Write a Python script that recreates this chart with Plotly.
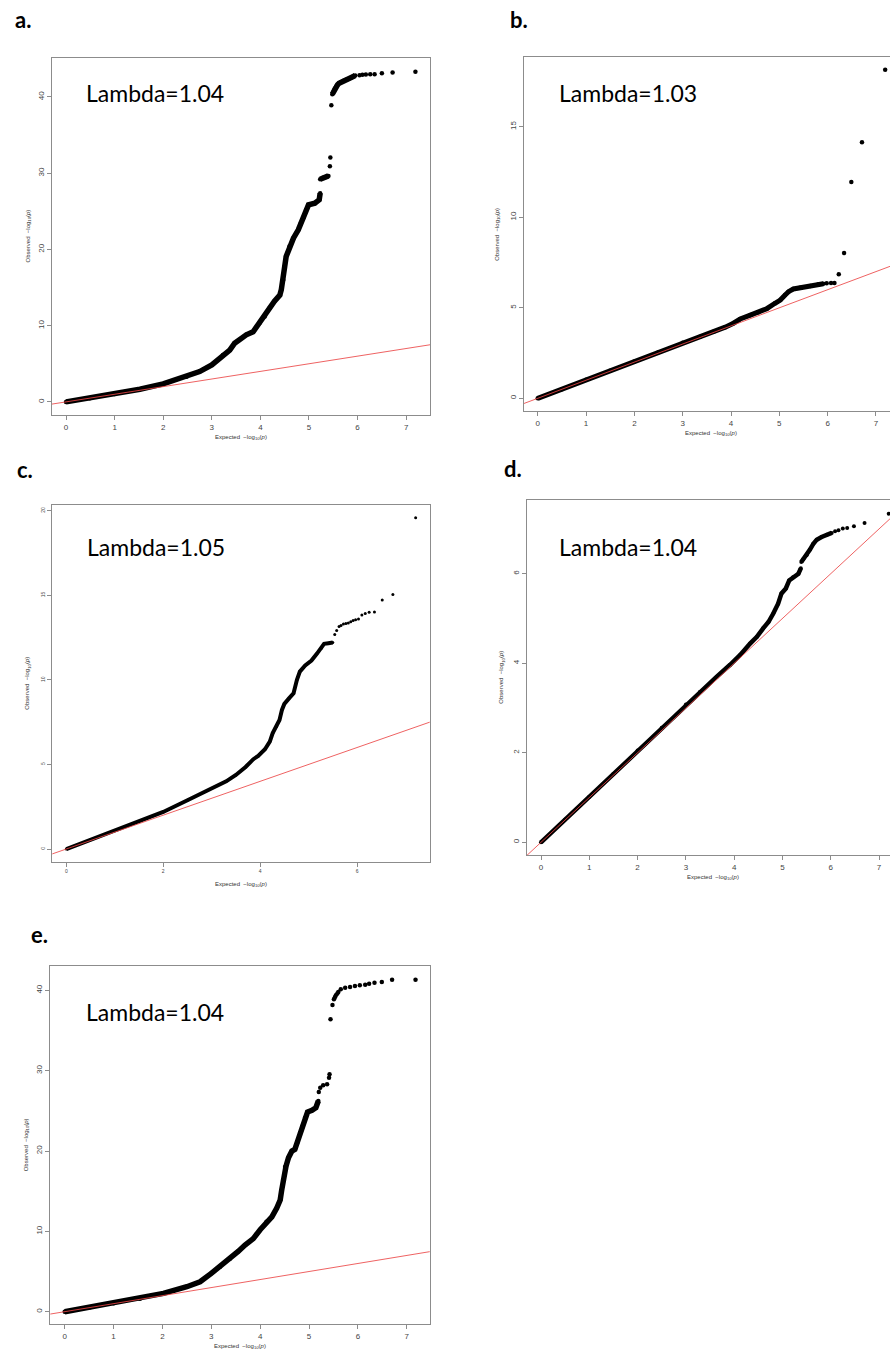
import plotly.graph_objects as go

# ---------------- data ----------------
reference_line = [-1, 8]          # y = x guide line

# panel a
a_line_x = [0, 0.49, 1.0, 1.52, 2.0, 2.48, 2.75, 3.0, 3.23, 3.37, 3.47, 3.56, 3.71, 3.85, 3.98,
            4.09, 4.19, 4.29, 4.40, 4.43, 4.47, 4.50, 4.53, 4.60, 4.68, 4.78, 4.83, 4.88, 4.94,
            4.99, 5.12, 5.21, 5.23, None, 5.23, 5.29, 5.35, 5.40, None,
            5.48, 5.51, 5.53, 5.56, 5.59, 5.62, 5.66, 5.71, 5.76, 5.81, 5.85, 5.88, 5.92, 5.95]
a_line_y = [0, 0.48, 1.05, 1.66, 2.36, 3.3, 3.98, 4.85, 6.16, 6.8, 7.7, 8.1, 8.8, 9.2, 10.3,
            11.2, 12.3, 13.2, 14.0, 14.7, 16.0, 17.75, 19.06, 20.4, 21.47, 22.56, 23.4, 24.09, 25.18,
            25.84, 26.06, 26.5, 27.37, None, 29.2, 29.38, 29.5, 29.64, None,
            40.35, 40.8, 41.1, 41.35, 41.6, 41.8, 41.95, 42.1, 42.25, 42.36, 42.48, 42.58, 42.7, 42.8]
a_dots_x = [5.43, 5.44, 5.46, 6.04, 6.10, 6.17, 6.26, 6.35, 6.50, 6.72, 7.19]
a_dots_y = [30.9, 32.04, 38.9, 42.85, 42.9, 42.93, 42.98, 42.98, 43.1, 43.19, 43.3]

# panel b
b_line_x = [0, 0.5, 1.0, 1.5, 2.0, 2.5, 3.0, 3.36, 3.64, 3.88, 4.05, 4.19, 4.40, 4.57, 4.74,
            4.91, 5.02, 5.12, 5.19, 5.29, 5.43, 5.64, 5.81, 5.91]
b_line_y = [0, 0.5, 1.02, 1.53, 2.04, 2.55, 3.07, 3.4, 3.68, 3.93, 4.15, 4.38, 4.6, 4.75, 4.95,
            5.25, 5.43, 5.71, 5.89, 6.04, 6.11, 6.2, 6.3, 6.33]
b_dots_x = [5.98, 6.07, 6.14, 6.23, 6.34, 6.49, 6.71, 7.19]
b_dots_y = [6.35, 6.37, 6.37, 6.85, 8.03, 11.95, 14.14, 18.15]

# panel c
c_line_x = [0, 0.5, 1.0, 1.5, 2.0, 2.5, 3.0, 3.3, 3.5, 3.7, 3.86, 3.96, 4.10, 4.20, 4.26, 4.34,
            4.40, 4.45, 4.50, 4.60, 4.69, 4.76, 4.82, 4.93, 5.06, 5.17, 5.27, 5.32, 5.41, 5.50]
c_line_y = [0, 0.55, 1.1, 1.63, 2.19, 2.88, 3.58, 4.0, 4.38, 4.85, 5.31, 5.5, 5.9, 6.35, 6.85, 7.24,
            7.63, 8.22, 8.58, 8.92, 9.21, 10.0, 10.49, 10.85, 11.14, 11.54, 11.88, 12.13, 12.17, 12.21]
c_dots_x = [5.54, 5.58, 5.63, 5.67, 5.72, 5.77, 5.82, 5.87, 5.92, 5.97, 6.03, 6.10, 6.17, 6.25,
            6.36, 6.52, 6.74, 7.21]
c_dots_y = [12.68, 12.92, 13.15, 13.22, 13.31, 13.34, 13.37, 13.44, 13.51, 13.55, 13.6, 13.83, 13.92,
            14.0, 14.02, 14.72, 15.05, 19.59]

# panel d
d_line_x = [0, 0.5, 1.0, 1.5, 2.0, 2.5, 3.0, 3.29, 3.64, 3.91, 4.12, 4.33, 4.47, 4.60, 4.71, 4.81,
            4.91, 4.98, 5.07, 5.14, 5.22, 5.33, 5.38, None, 5.39, 5.43, 5.50, 5.57, 5.64, 5.71,
            5.81, 5.92, 6.02]
d_line_y = [0, 0.51, 1.02, 1.53, 2.05, 2.56, 3.08, 3.36, 3.70, 3.96, 4.18, 4.44, 4.59, 4.78, 4.92,
            5.11, 5.33, 5.56, 5.67, 5.85, 5.92, 6.0, 6.12, None, 6.26, 6.32, 6.41, 6.54, 6.67, 6.76,
            6.82, 6.87, 6.91]
d_dots_x = [6.09, 6.16, 6.25, 6.34, 6.48, 6.70, 7.20]
d_dots_y = [6.95, 6.97, 7.01, 7.02, 7.06, 7.13, 7.34]

# panel e
e_line_x = [0, 0.52, 1.0, 1.54, 2.02, 2.5, 2.77, 3.0, 3.18, 3.38, 3.55, 3.69, 3.86, 4.0, 4.13,
            4.24, 4.34, 4.41, 4.44, 4.47, 4.51, 4.53, 4.58, 4.65, 4.71, 4.76, 4.82, 4.87, 4.92,
            4.97, 5.06, 5.14, 5.19]
e_line_y = [0, 0.55, 1.06, 1.62, 2.28, 3.11, 3.73, 4.77, 5.6, 6.6, 7.5, 8.3, 9.1, 10.2, 11.2,
            11.8, 12.9, 13.9, 15.1, 16.4, 18.0, 18.13, 19.17, 20.0, 20.21, 21.03, 22.28, 23.11, 24.15,
            24.85, 25.07, 25.39, 26.22]
e_dots_x = [5.20, 5.23, 5.29, 5.37, 5.41, 5.42, 5.44, 5.48, 5.51, 5.53, 5.55, 5.58, 5.60, 5.65,
            5.74, 5.84, 5.94, 6.04, 6.15, 6.23, 6.34, 6.49, 6.70, 7.18]
e_dots_y = [27.34, 27.88, 28.18, 28.3, 29.12, 29.55, 36.39, 38.17, 38.88, 39.15, 39.38, 39.6, 39.79,
            40.12, 40.32, 40.41, 40.54, 40.62, 40.7, 40.82, 40.95, 41.03, 41.32, 41.32]

panel_letters = ["a.", "b.", "c.", "d.", "e."]
lambda_labels = ["Lambda=1.04", "Lambda=1.03", "Lambda=1.05", "Lambda=1.04", "Lambda=1.04"]

# ---------------- layout geometry (pixels) ----------------
W, H = 890, 1352
panels = [
    dict(lx=a_line_x, ly=a_line_y, dx=a_dots_x, dy=a_dots_y,
         box=(52, 430, 58, 415), xr=[-0.288, 7.49], yr=[-1.72, 45.1],
         xt=[0, 1, 2, 3, 4, 5, 6, 7], yt=[0, 10, 20, 30, 40], fs=8, lw=5.5, ms=4.5,
         mirror_y=True, letter=(13, 20), lam=(84, 93), xtitle_y=437, ytitle_x=28),
    dict(lx=b_line_x, ly=b_line_y, dx=b_dots_x, dy=b_dots_y,
         box=(523.7, 890, 56.7, 411), xr=[-0.29, 7.29], yr=[-0.70, 18.87],
         xt=[0, 1, 2, 3, 4, 5, 6, 7], yt=[0, 5, 10, 15], fs=8, lw=5, ms=4.5,
         mirror_y=False, letter=(508, 19), lam=(557, 93), xtitle_y=433, ytitle_x=498),
    dict(lx=c_line_x, ly=c_line_y, dx=c_dots_x, dy=c_dots_y,
         box=(52.3, 429.7, 505, 862.3), xr=[-0.289, 7.50], yr=[-0.786, 20.34],
         xt=[0, 2, 4, 6], yt=[0, 5, 10, 15, 20], fs=5, lw=4, ms=3,
         mirror_y=True, letter=(15, 470), lam=(85, 547), xtitle_y=884, ytitle_x=28),
    dict(lx=d_line_x, ly=d_line_y, dx=d_dots_x, dy=d_dots_y,
         box=(527, 890, 500, 855.3), xr=[-0.29, 7.227], yr=[-0.29, 7.646],
         xt=[0, 1, 2, 3, 4, 5, 6, 7], yt=[0, 2, 4, 6], fs=8, lw=4.5, ms=4,
         mirror_y=False, letter=(502, 468), lam=(557, 547), xtitle_y=877, ytitle_x=502),
    dict(lx=e_line_x, ly=e_line_y, dx=e_dots_x, dy=e_dots_y,
         box=(50.3, 429.7, 966.3, 1324.3), xr=[-0.295, 7.47], yr=[-1.57, 42.99],
         xt=[0, 1, 2, 3, 4, 5, 6, 7], yt=[0, 10, 20, 30, 40], fs=8, lw=5.5, ms=4.5,
         mirror_y=True, letter=(29, 935), lam=(84, 1012), xtitle_y=1346, ytitle_x=26),
]

def px(x):
    return x / W

def py(y):
    return 1 - y / H

fig = go.Figure()
annotations = []
frame_col = "#8c8c8c"
tick_col = "#444444"

for i, p in enumerate(panels):
    n = "" if i == 0 else str(i + 1)
    xa, ya = "x" + n, "y" + n
    l, r, t, b = p["box"]
    fig.add_trace(go.Scatter(x=p["lx"], y=p["ly"], xaxis=xa, yaxis=ya, mode="lines+markers",
                             line=dict(color="black", width=p["lw"]),
                             marker=dict(color="black", size=p["ms"]),
                             connectgaps=False, showlegend=False, hoverinfo="skip"))
    fig.add_trace(go.Scatter(x=p["dx"], y=p["dy"], xaxis=xa, yaxis=ya, mode="markers",
                             marker=dict(color="black", size=p["ms"]),
                             showlegend=False, hoverinfo="skip"))
    fig.add_trace(go.Scatter(x=reference_line, y=reference_line, xaxis=xa, yaxis=ya, mode="lines",
                             line=dict(color="rgba(235,70,70,0.85)", width=1),
                             showlegend=False, hoverinfo="skip"))
    common = dict(showgrid=False, zeroline=False, showline=True, linecolor=frame_col, linewidth=1,
                  ticks="outside", ticklen=4, tickcolor=frame_col, tickwidth=1,
                  tickfont=dict(family="Liberation Sans", size=p["fs"], color=tick_col))
    fig.layout["xaxis" + n] = dict(domain=[px(l), min(1, px(r))], range=p["xr"], anchor=ya,
                                   tickvals=p["xt"], mirror=True, **common)
    fig.layout["yaxis" + n] = dict(domain=[py(b), py(t)], range=p["yr"], anchor=xa,
                                   tickvals=p["yt"], tickangle=-90,
                                   mirror=p["mirror_y"], **common)
    # panel letter
    annotations.append(dict(text="<b>" + panel_letters[i] + "</b>", x=px(p["letter"][0]),
                            y=py(p["letter"][1]), xref="paper", yref="paper", xanchor="left",
                            yanchor="middle", showarrow=False,
                            font=dict(family="Lato", size=22, color="black")))
    # lambda label
    annotations.append(dict(text=lambda_labels[i], x=px(p["lam"][0]), y=py(p["lam"][1]),
                            xref="paper", yref="paper", xanchor="left", yanchor="middle",
                            showarrow=False, font=dict(family="Lato", size=23, color="black")))
    # axis titles
    cx = (l + r) / 2 if r < W else (l + 899) / 2
    annotations.append(dict(text="Expected  \u2212log<sub>10</sub>(<i>p</i>)", x=px(cx),
                            y=py(p["xtitle_y"]), xref="paper", yref="paper", xanchor="center",
                            yanchor="middle", showarrow=False,
                            font=dict(family="Liberation Sans", size=6, color="#333333")))
    annotations.append(dict(text="Observed  \u2212log<sub>10</sub>(<i>p</i>)", x=px(p["ytitle_x"]),
                            y=py((t + b) / 2), xref="paper", yref="paper", xanchor="center",
                            yanchor="middle", textangle=-90, showarrow=False,
                            font=dict(family="Liberation Sans", size=6, color="#333333")))

fig.update_layout(width=W, height=H, autosize=False, margin=dict(l=0, r=0, t=0, b=0),
                  paper_bgcolor="white", plot_bgcolor="white", annotations=annotations)

fig.write_html("out.html", config={"displayModeBar": False},
               post_script="document.body.style.margin='0px';"
                           "document.body.style.overflow='hidden';")
